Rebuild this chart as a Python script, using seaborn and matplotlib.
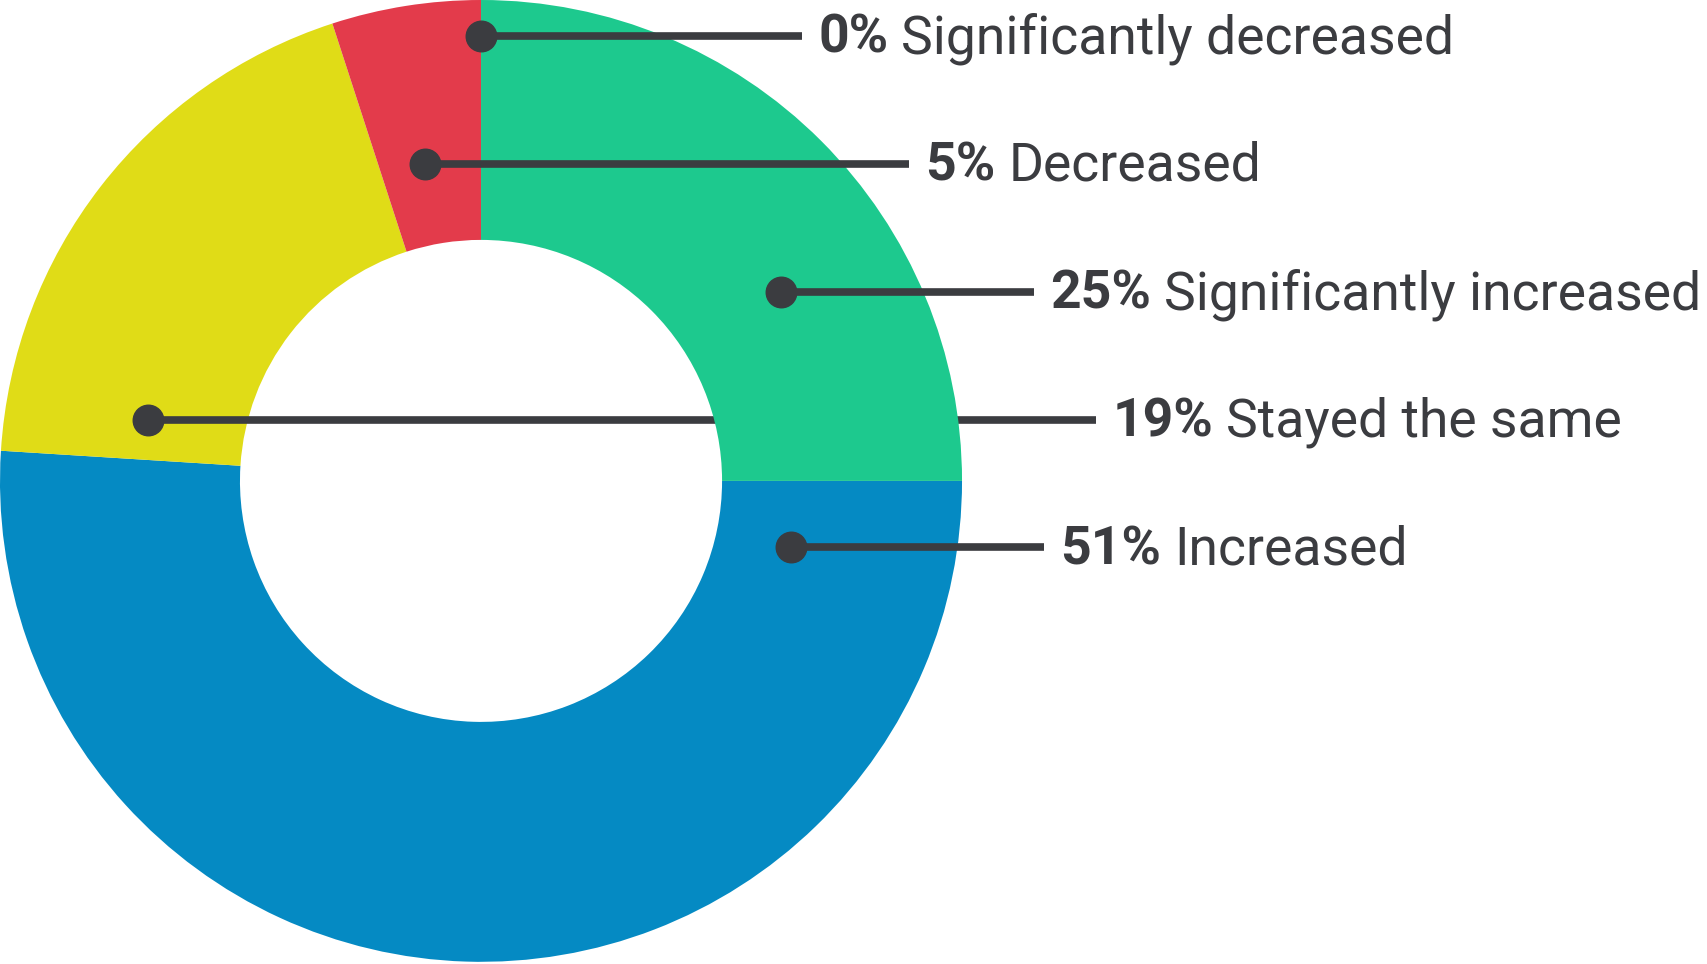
import matplotlib
matplotlib.use("Agg")
import matplotlib.pyplot as plt
import seaborn as sns

sns.set_theme(style="white")
plt.rcParams['font.family'] = ['Roboto', 'DejaVu Sans']

# ---- data ----
categories = ["Significantly decreased", "Decreased", "Significantly increased",
              "Stayed the same", "Increased"]
percents = [0, 5, 25, 19, 51]
# clockwise order of the ring starting at 12 o'clock
ring_order = ["Significantly increased", "Increased", "Stayed the same",
              "Decreased", "Significantly decreased"]
palette = {"Significantly increased": "#1DC98E", "Increased": "#058AC3",
           "Stayed the same": "#E0DC17", "Decreased": "#E33B4B",
           "Significantly decreased": "#E33B4B"}

# ---- layout (canvas units, y measured from top) ----
W, H = 1565, 884
cx, cy, R, ring_w = 441, 441, 441, 220
dot_pos = {"Significantly decreased": (441, 33), "Decreased": (390, 150),
           "Significantly increased": (716, 268), "Stayed the same": (136, 385),
           "Increased": (725, 502)}
line_end = {"Significantly decreased": 735, "Decreased": 833,
            "Significantly increased": 948, "Stayed the same": 1005,
            "Increased": 957}
dark = "#3B3C40"
fs = 38.5

fig = plt.figure(figsize=(17.07, 9.64), dpi=100)
ax = fig.add_axes([0, 0, 1, 1])

vals = [percents[categories.index(c)] for c in ring_order]
cols = [palette[c] for c in ring_order]
wedges, _ = ax.pie(vals, colors=cols, startangle=90, counterclock=False,
                   radius=R, center=(cx, H - cy),
                   wedgeprops=dict(width=ring_w, linewidth=0))
zmap = {"Significantly increased": 2, "Increased": 1, "Stayed the same": 1,
        "Decreased": 1, "Significantly decreased": 1}
for w, c in zip(wedges, ring_order):
    w.set_zorder(zmap[c])

ax.set_xlim(0, W)
ax.set_ylim(0, H)
ax.set_aspect('auto')
ax.axis('off')

fig.canvas.draw()
renderer = fig.canvas.get_renderer()
inv = ax.transData.inverted()

for cat, p in zip(categories, percents):
    x0, y0 = dot_pos[cat]
    xe = line_end[cat]
    lz = 1.5 if cat == "Stayed the same" else 3
    ax.plot([x0, xe], [H - y0, H - y0], color=dark, lw=5.5,
            solid_capstyle='butt', zorder=lz)
    ax.plot([x0], [H - y0], 'o', color=dark, ms=22, zorder=4)
    ty = H - y0 + 3
    t1 = ax.text(xe + 15, ty, f"{p}%", fontsize=fs, fontweight='bold',
                 color=dark, va='center_baseline', ha='left')
    bb = t1.get_window_extent(renderer=renderer)
    xr = inv.transform((bb.x1, bb.y0))[0]
    ax.text(xr + 12, ty, cat, fontsize=fs, fontweight='normal',
            color=dark, va='center_baseline', ha='left')

fig.savefig("out.png", dpi=100, facecolor="white")
